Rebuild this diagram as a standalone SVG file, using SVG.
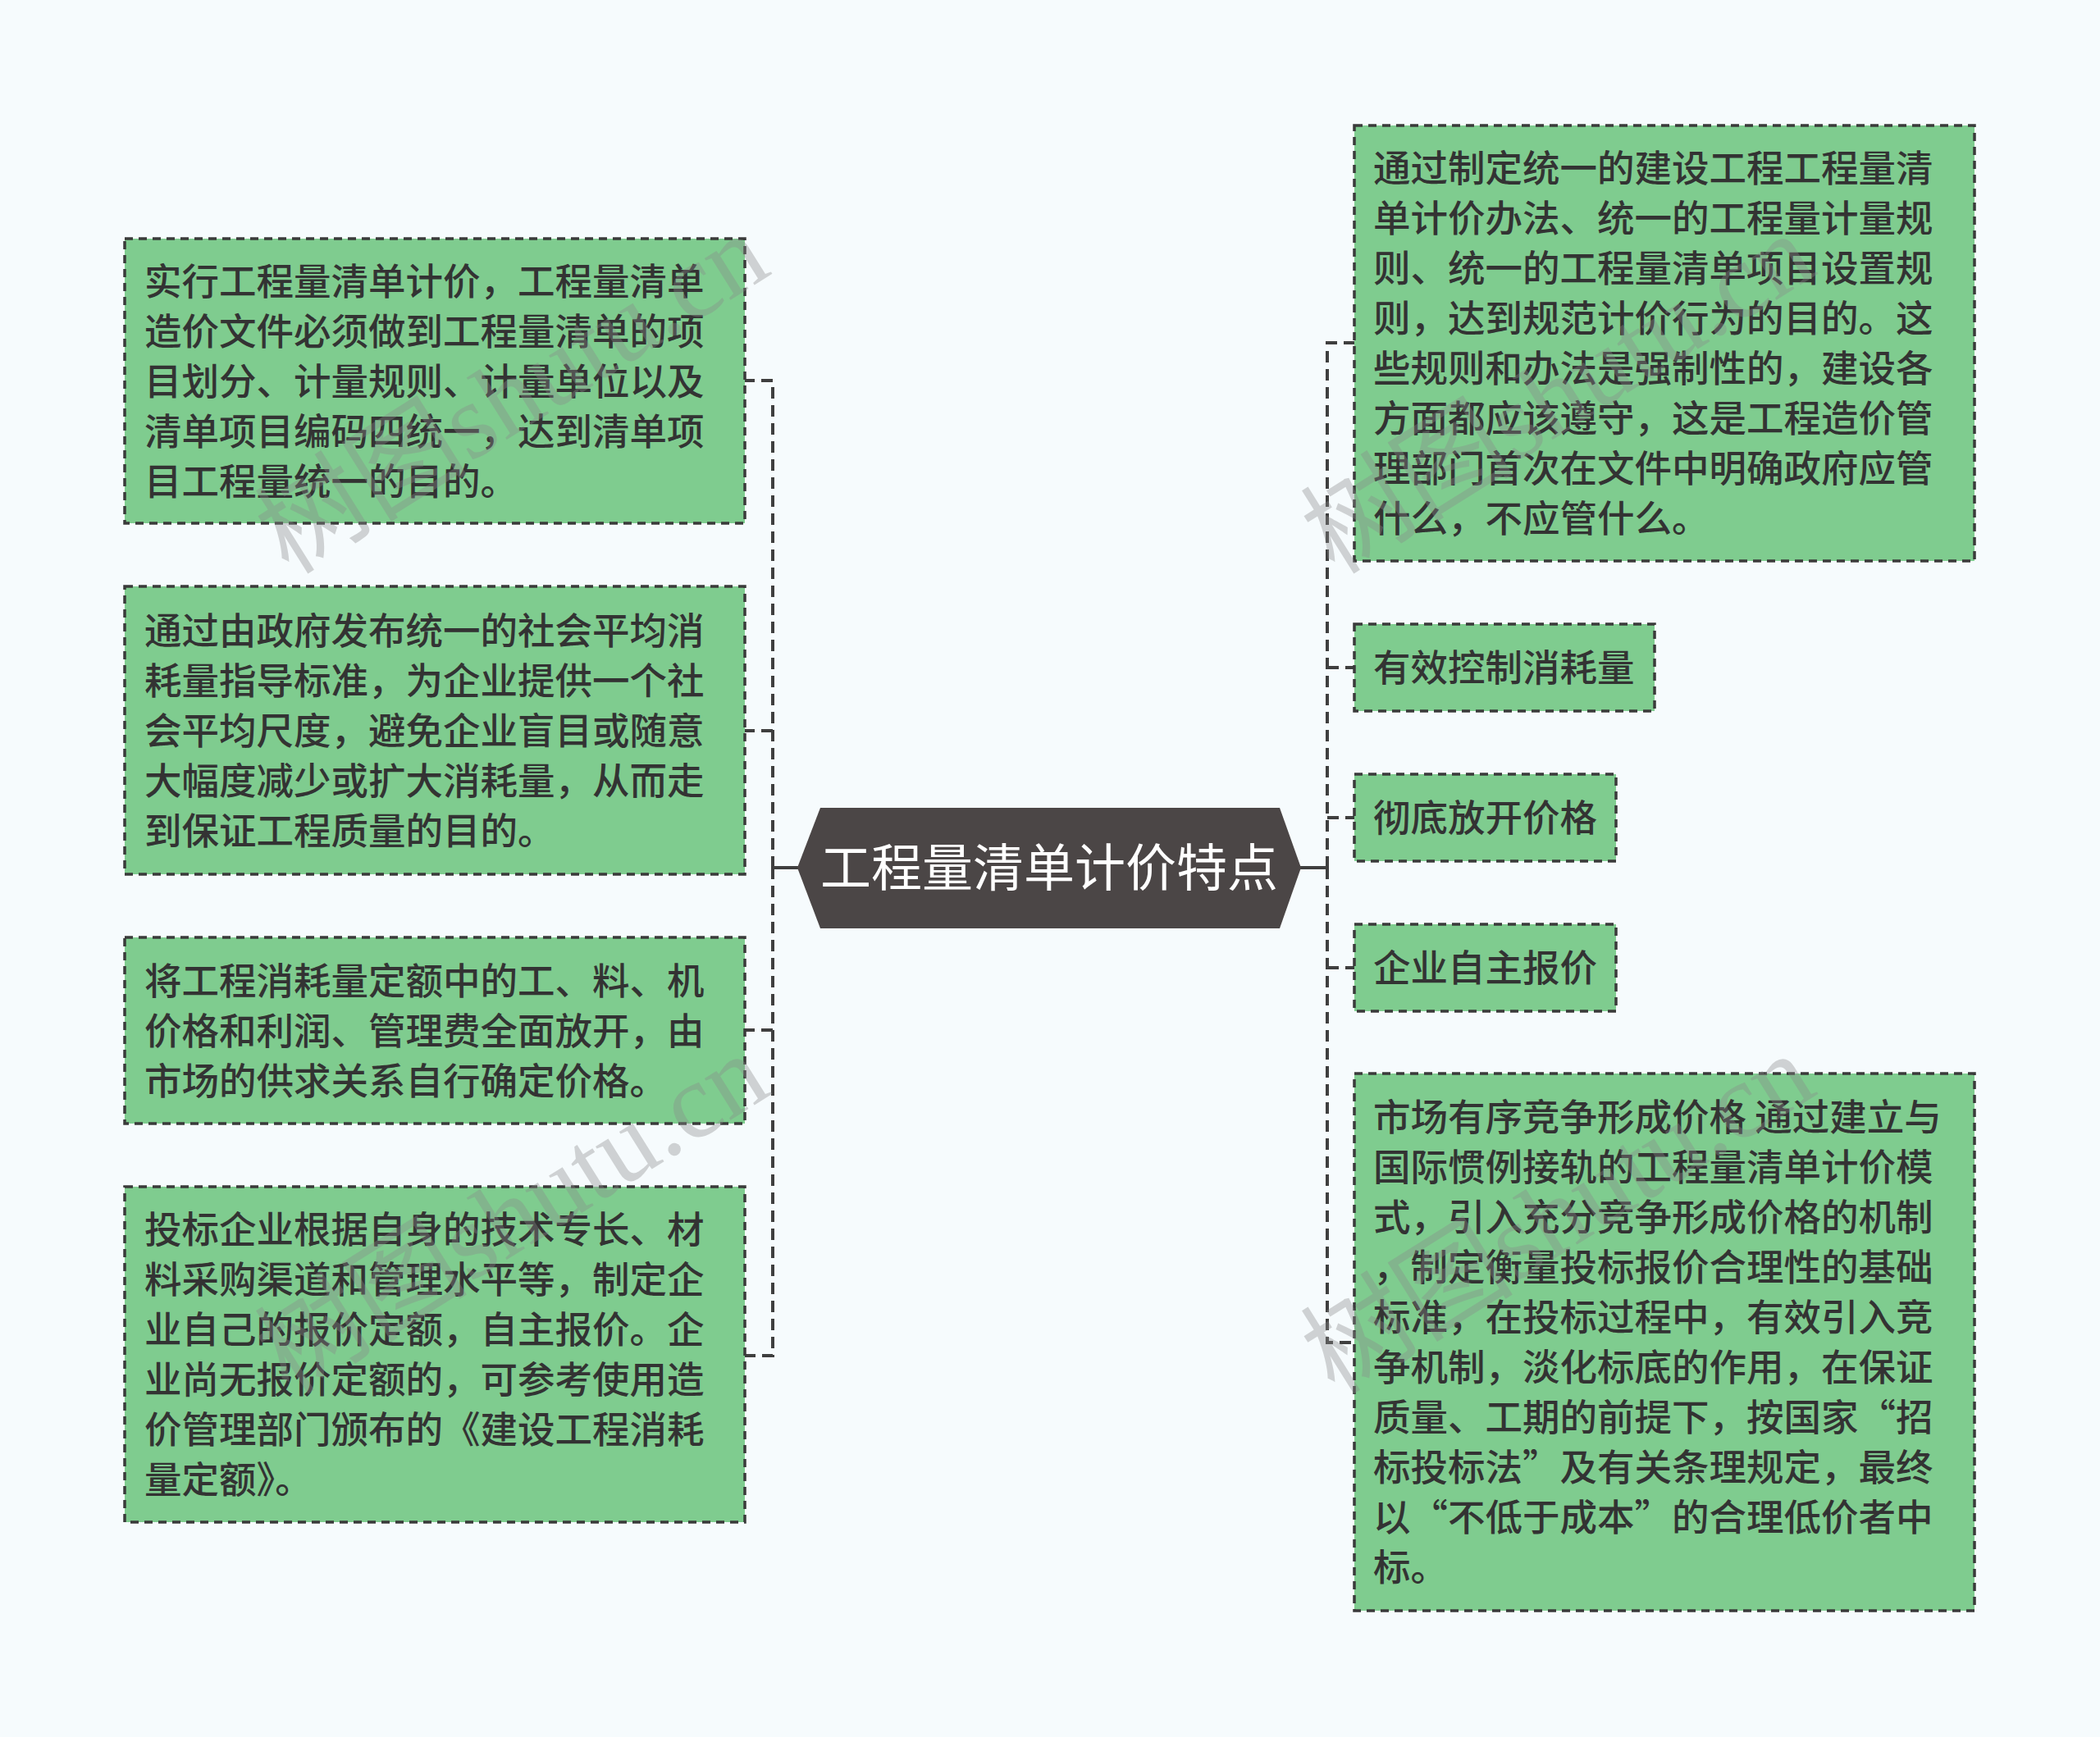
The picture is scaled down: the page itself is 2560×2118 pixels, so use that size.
<svg xmlns="http://www.w3.org/2000/svg" width="2560" height="2118" viewBox="0 0 2560 2118">
<style>
.bg{fill:#f6fbfd}
.box{fill:#7fcc8f;stroke:#3a3a3a;stroke-width:3.5;stroke-dasharray:10 7}
.t{font-family:"Noto Sans CJK SC","Noto Sans",sans-serif;font-size:45.5px;font-weight:500;fill:#333333}
.fw{font-variant-east-asian:full-width}
.root{fill:#4b4646}
.rt{font-family:"Noto Sans CJK SC","Noto Sans",sans-serif;font-size:62px;fill:#ffffff;text-anchor:middle}
.solid{stroke:#3f3f3f;stroke-width:4;fill:none}
.dash{stroke:#3f3f3f;stroke-width:4;fill:none;stroke-dasharray:14 8}
.wm{font-family:"Liberation Serif","Noto Sans CJK SC",serif;font-size:130px;fill:#8a8a8a;opacity:0.36}
</style>
<rect class="bg" x="0" y="0" width="2560" height="2118"/>
<g id="connectors">
<path class="solid" d="M973 1058 H942"/>
<path class="dash" d="M942 1058 V464 H908"/>
<path class="dash" d="M942 1058 V1653 H908"/>
<path class="dash" d="M942 891 H908"/>
<path class="dash" d="M942 1256 H908"/>
<path class="solid" d="M1584 1058 H1618"/>
<path class="dash" d="M1618 1058 V418 H1651"/>
<path class="dash" d="M1618 1058 V1637 H1651"/>
<path class="dash" d="M1618 814 H1651"/>
<path class="dash" d="M1618 997 H1651"/>
<path class="dash" d="M1618 1180 H1651"/>
</g>
<g id="root">
<polygon class="root" points="972,1058 1000,985 1560,985 1586,1058 1560,1132 1000,1132"/>
<text class="rt" x="1279" y="1081">工程量清单计价特点</text>
</g>
<g id="L1">
<rect class="box" x="152" y="291" width="756" height="347"/>
<text class="t"><tspan x="176" y="360">实行工程量清单计价，工程量清单</tspan><tspan x="176" dy="61">造价文件必须做到工程量清单的项</tspan><tspan x="176" dy="61">目划分、计量规则、计量单位以及</tspan><tspan x="176" dy="61">清单项目编码四统一，达到清单项</tspan><tspan x="176" dy="61">目工程量统一的目的。</tspan></text>
</g>
<g id="L2">
<rect class="box" x="152" y="715" width="756" height="351"/>
<text class="t"><tspan x="176" y="786">通过由政府发布统一的社会平均消</tspan><tspan x="176" dy="61">耗量指导标准，为企业提供一个社</tspan><tspan x="176" dy="61">会平均尺度，避免企业盲目或随意</tspan><tspan x="176" dy="61">大幅度减少或扩大消耗量，从而走</tspan><tspan x="176" dy="61">到保证工程质量的目的。</tspan></text>
</g>
<g id="L3">
<rect class="box" x="152" y="1143" width="756" height="227"/>
<text class="t"><tspan x="176" y="1213">将工程消耗量定额中的工、料、机</tspan><tspan x="176" dy="61">价格和利润、管理费全面放开，由</tspan><tspan x="176" dy="61">市场的供求关系自行确定价格。</tspan></text>
</g>
<g id="L4">
<rect class="box" x="152" y="1447" width="756" height="409"/>
<text class="t"><tspan x="176" y="1516">投标企业根据自身的技术专长、材</tspan><tspan x="176" dy="61">料采购渠道和管理水平等，制定企</tspan><tspan x="176" dy="61">业自己的报价定额，自主报价。企</tspan><tspan x="176" dy="61">业尚无报价定额的，可参考使用造</tspan><tspan x="176" dy="61">价管理部门颁布的《建设工程消耗</tspan><tspan x="176" dy="61">量定额》。</tspan></text>
</g>
<g id="R1">
<rect class="box" x="1651" y="153" width="756" height="531"/>
<text class="t"><tspan x="1674" y="222">通过制定统一的建设工程工程量清</tspan><tspan x="1674" dy="61">单计价办法、统一的工程量计量规</tspan><tspan x="1674" dy="61">则、统一的工程量清单项目设置规</tspan><tspan x="1674" dy="61">则，达到规范计价行为的目的。这</tspan><tspan x="1674" dy="61">些规则和办法是强制性的，建设各</tspan><tspan x="1674" dy="61">方面都应该遵守，这是工程造价管</tspan><tspan x="1674" dy="61">理部门首次在文件中明确政府应管</tspan><tspan x="1674" dy="61">什么，不应管什么。</tspan></text>
</g>
<g id="R2">
<rect class="box" x="1651" y="761" width="366" height="106"/>
<text class="t" x="1674" y="831">有效控制消耗量</text>
</g>
<g id="R3">
<rect class="box" x="1651" y="944" width="319" height="106"/>
<text class="t" x="1674" y="1014">彻底放开价格</text>
</g>
<g id="R4">
<rect class="box" x="1651" y="1127" width="319" height="106"/>
<text class="t" x="1674" y="1197">企业自主报价</text>
</g>
<g id="R5">
<rect class="box" x="1651" y="1309" width="756" height="655"/>
<text class="t"><tspan x="1674" y="1379">市场有序竞争形成价格 通过建立与</tspan><tspan x="1674" dy="61">国际惯例接轨的工程量清单计价模</tspan><tspan x="1674" dy="61">式，引入充分竞争形成价格的机制</tspan><tspan x="1674" dy="61">，制定衡量投标报价合理性的基础</tspan><tspan x="1674" dy="61">标准，在投标过程中，有效引入竞</tspan><tspan x="1674" dy="61">争机制，淡化标底的作用，在保证</tspan><tspan x="1674" dy="61" class="fw">质量、工期的前提下，按国家“招</tspan><tspan x="1674" dy="61" class="fw">标投标法”及有关条理规定，最终</tspan><tspan x="1674" dy="61" class="fw">以“不低于成本”的合理低价者中</tspan><tspan x="1674" dy="61">标。</tspan></text>
</g>
<g id="watermarks">
<text class="wm" transform="translate(352 702) rotate(-32)">树图shutu.cn</text>
<text class="wm" transform="translate(352 1702) rotate(-32)">树图shutu.cn</text>
<text class="wm" transform="translate(1627 702) rotate(-32)">树图shutu.cn</text>
<text class="wm" transform="translate(1627 1702) rotate(-32)">树图shutu.cn</text>
</g>
</svg>
